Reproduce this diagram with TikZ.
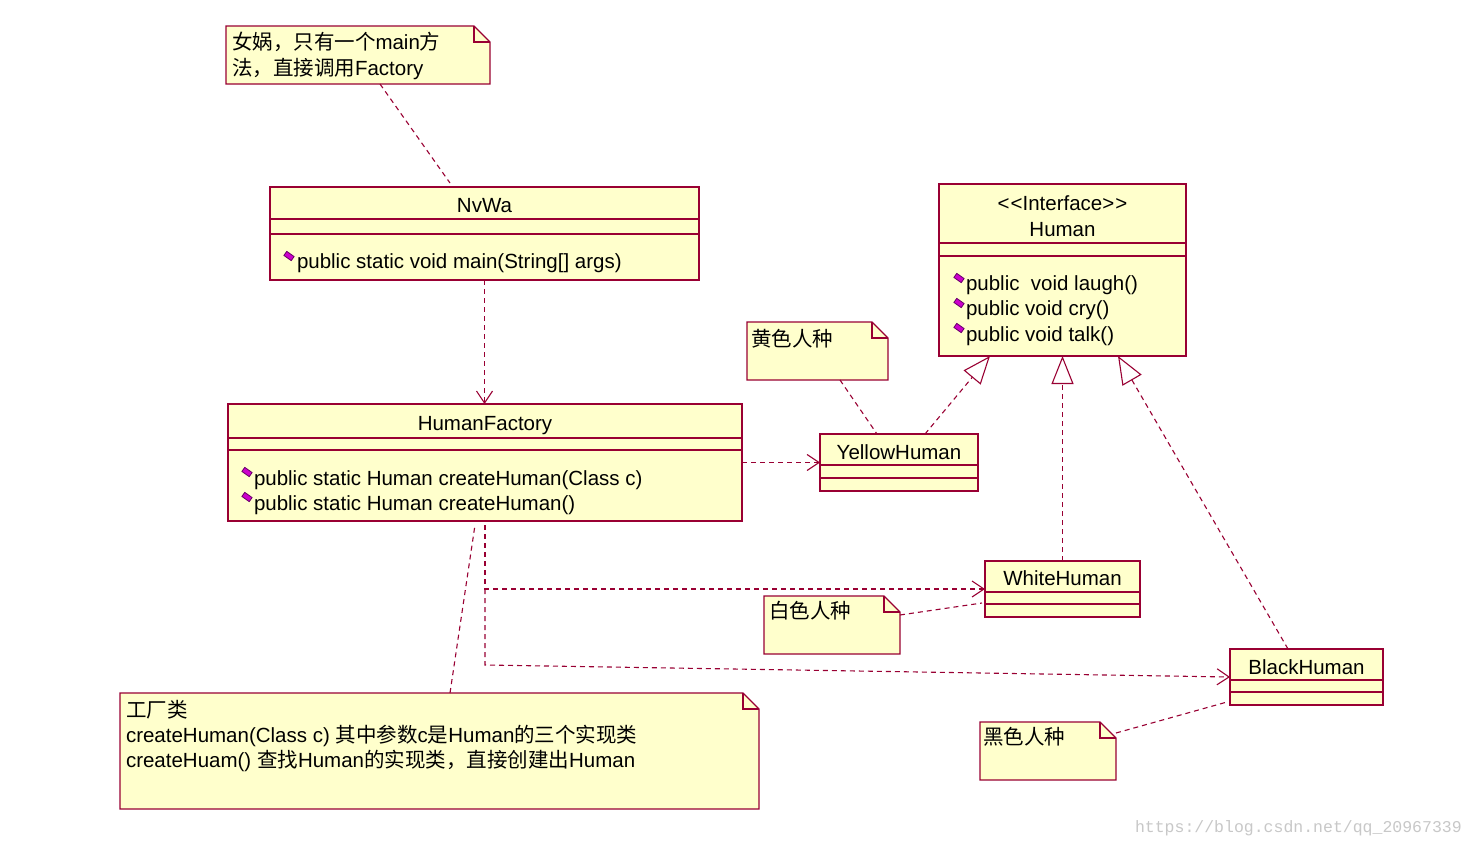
\documentclass[tikz,border=0pt]{standalone}
\usepackage{fontspec}
\setmainfont{Liberation Sans}
\newfontfamily\cjk{Noto Sans CJK SC}
\newfontfamily\wmfont{Liberation Mono}
\usetikzlibrary{calc,arrows.meta}
\definecolor{umlred}{RGB}{153,0,51}
\definecolor{umlfill}{RGB}{255,255,204}
\definecolor{iconfill}{RGB}{204,0,204}
\definecolor{icondraw}{RGB}{102,0,102}
\definecolor{wmgray}{RGB}{200,200,200}

\newcommand{\umlnote}[5]{%
  \node[notebody, minimum width={#4-#2}, minimum height={#5-#3}] (#1) at ({(#2+#4)/2},{(#3+#5)/2}) {};
  \filldraw[noteline] (#1.north west) -- ($(#1.north east)+(-16,0)$) -- ($(#1.north east)+(0,16)$) -- (#1.south east) -- (#1.south west) -- cycle;
  \draw[sepline] ($(#1.north east)+(-16,0)$) -- ($(#1.north east)+(-16,16)$) -- ($(#1.north east)+(0,16)$);
}
\newcommand{\umlclass}[7]{%
  \node[clsbox, minimum width={#4-#2}, minimum height={#5-#3}] (#1) at ({(#2+#4)/2},{(#3+#5)/2}) {};
  \draw[sepline] ($(#1.north west)+(0,#6)$) -- ($(#1.north east)+(0,#6)$);
  \draw[sepline] ($(#1.north west)+(0,#7)$) -- ($(#1.north east)+(0,#7)$);
}

\begin{document}
\begin{tikzpicture}[x=1pt,y=-1pt,
  clsbox/.style={draw=umlred, fill=umlfill, line width=1.3pt, inner sep=0pt, outer sep=0pt},
  notebody/.style={inner sep=0pt, outer sep=0pt},
  noteline/.style={draw=umlred, fill=umlfill, line width=1.3pt},
  sepline/.style={draw=umlred, line width=1.3pt},
  txt/.style={inner sep=0pt, outer sep=0pt, font=\fontsize{20.5}{25}\selectfont, text=black},
  conn/.style={draw=umlred, line width=1.1pt, dash pattern=on 5pt off 4pt},
  dep/.style={conn, -{Straight Barb[length=12pt,width=16pt,line width=1.1pt]}},
  real/.style={conn, -{Triangle[length=28pt,width=22pt,fill=white,line width=1.1pt]}},
  icon/.style={rectangle, fill=iconfill, draw=icondraw, line width=0.8pt, minimum width=9pt, minimum height=5pt, inner sep=0pt, rotate=-35},
  wm/.style={inner sep=0pt, outer sep=0pt, font=\wmfont\fontsize{16.5}{20}\selectfont, text=wmgray}
]
\useasboundingbox (0,0) rectangle (1477,846);
\fill[white] (0,0) rectangle (1477,846);

% ---------- notes ----------
\umlnote{n1}{226}{26}{490}{84}
\node[txt, anchor=base west] (n1a) at (232,49) {{\cjk 女娲，只有一个}main{\cjk 方}};
\node[txt, anchor=base west] (n1b) at (232,75) {{\cjk 法，直接调用}Factory};

\umlnote{ny}{747}{322}{888}{380}
\node[txt, anchor=base west] (nyt) at (751,346) {\cjk 黄色人种};

\umlnote{nw}{764}{596}{900}{654}
\node[txt, anchor=base west] (nwt) at (769,618) {\cjk 白色人种};

\umlnote{nb}{980}{722}{1116}{780}
\node[txt, anchor=base west] (nbt) at (983,744) {\cjk 黑色人种};

\umlnote{nf}{120}{693}{759}{809}
\node[txt, anchor=base west] (nfa) at (126,717) {\cjk 工厂类};
\node[txt, anchor=base west] (nfb) at (126,742) {createHuman(Class c) {\cjk 其中参数}c{\cjk 是}Human{\cjk 的三个实现类}};
\node[txt, anchor=base west] (nfc) at (126,767) {createHuam() {\cjk 查找}Human{\cjk 的实现类，直接创建出}Human};

% ---------- classes ----------
\umlclass{nvwa}{270}{187}{699}{280}{32}{47}
\node[txt, anchor=base] (nvwat) at (484.5,212) {NvWa};
\node[icon] (nvwai) at (289,256) {};
\node[txt, anchor=base west] (nvwam) at (297,268) {public static void main(String[] args)};

\umlclass{human}{939}{184}{1186}{356}{59}{72}
\node[txt, anchor=base] (humans) at (1062.5,210) {<\kern1pt<Interface>\kern1pt>};
\node[txt, anchor=base] (humant) at (1062.5,236) {Human};
\node[icon] (humani1) at (959,278) {};
\node[icon] (humani2) at (959,303) {};
\node[icon] (humani3) at (959,328) {};
\node[txt, anchor=base west] (humanm1) at (966,290) {public\ \ void laugh()};
\node[txt, anchor=base west] (humanm2) at (966,315) {public void cry()};
\node[txt, anchor=base west] (humanm3) at (966,341) {public void talk()};

\umlclass{hf}{228}{404}{742}{521}{34}{46}
\node[txt, anchor=base] (hft) at (485,430) {HumanFactory};
\node[icon] (hfi1) at (247,472) {};
\node[icon] (hfi2) at (247,497) {};
\node[txt, anchor=base west] (hfm1) at (254,485) {public static Human createHuman(Class c)};
\node[txt, anchor=base west] (hfm2) at (254,510) {public static Human createHuman()};

\umlclass{yellow}{820}{434}{978}{491}{31}{44}
\node[txt, anchor=base] (yellowt) at (899,459) {YellowHuman};

\umlclass{white}{985}{561}{1140}{617}{31}{43}
\node[txt, anchor=base] (whitet) at (1062.5,585) {WhiteHuman};

\umlclass{black}{1230}{649}{1383}{705}{31}{43}
\node[txt, anchor=base] (blackt) at (1306.5,674) {BlackHuman};

% ---------- connectors ----------
\coordinate (split) at (hf.south |- white.west);
\draw[conn] ($(n1.south west)+(154,0)$) -- ($(nvwa.north west)+(180,-4)$);
\draw[dep] (nvwa.south) -- (nvwa.south |- hf.north);
\draw[dep] (hf.east) -- (yellow.west);
\draw[dep] ($(hf.south)+(0,4)$) |- (white.west);
\draw[dep] (split) -- ($(hf.south)+(0,144)$) -- (black.west);
\draw[conn] ($(nf.north west)+(330,0)$) -- ($(hf.south west)+(247,4)$);
\draw[conn] ($(ny.south west)+(93,0)$) -- ($(yellow.north west)+(57,0)$);
\draw[real] ($(yellow.north west)+(105,0)$) -- ($(human.south west)+(51,0)$);
\draw[real] (white.north) -- (white.north |- human.south);
\draw[real] ($(black.north west)+(58,0)$) -- ($(human.south west)+(179,0)$);
\draw[conn] ($(nw.north east)+(0,19)$) -- ($(white.west)+(-3,14)$);
\draw[conn] ($(nb.north east)+(0,11)$) -- ($(black.west)+(-3,25)$);

% ---------- watermark ----------
\node[wm, anchor=base west] (wmark) at (1135,832) {https://blog.csdn.net/qq\_20967339};
\end{tikzpicture}
\end{document}
